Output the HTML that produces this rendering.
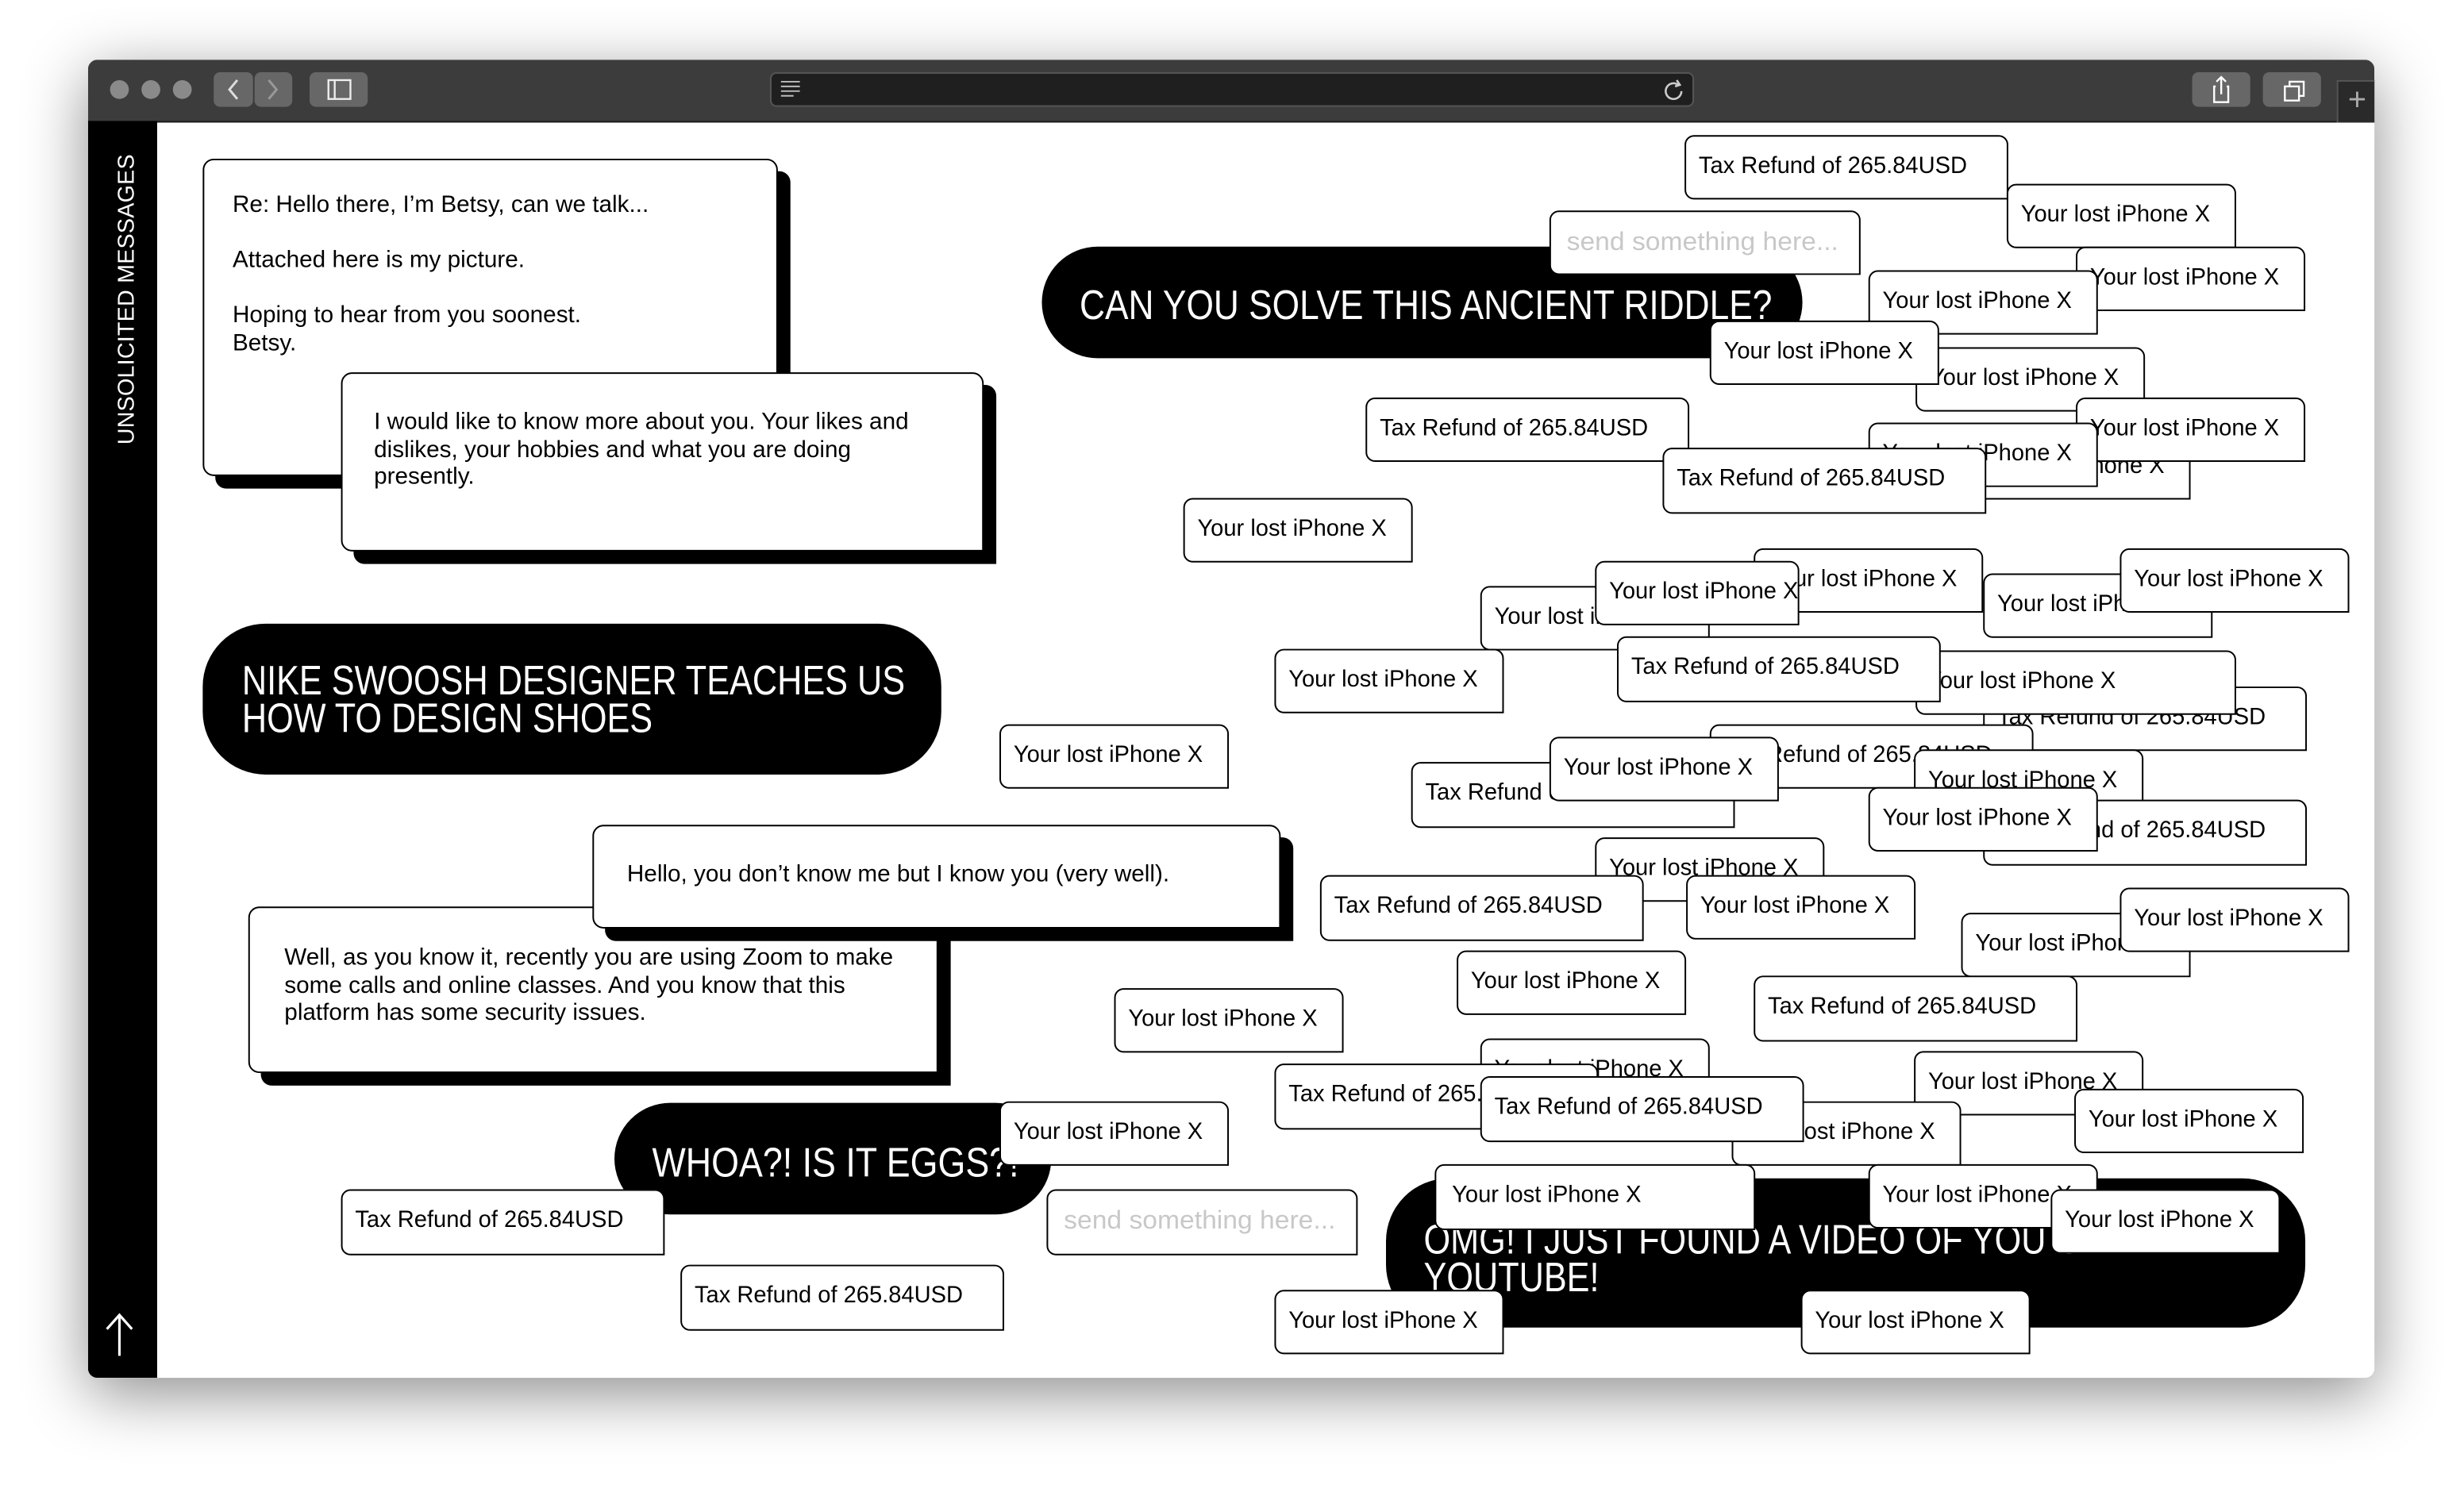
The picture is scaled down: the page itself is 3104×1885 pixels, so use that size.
<!DOCTYPE html>
<html><head><meta charset="utf-8">
<style>
html,body{margin:0;padding:0;background:#fff;}
body{width:3104px;height:1884px;overflow:hidden;position:relative;}
#s{position:absolute;left:0;top:0;width:1568px;height:952px;transform:scale(1.97959);transform-origin:0 0;font-family:"Liberation Sans",sans-serif;}
.win{position:absolute;left:56px;top:38px;width:1455px;height:839px;border-radius:6px;box-shadow:0 10px 40px rgba(0,0,0,.45);overflow:hidden;background:#fff;}
.tb{position:absolute;left:0;top:0;width:1455px;height:39px;background:#3c3c3c;border-bottom:1px solid #1a1a1a;}
.dot{position:absolute;top:13px;width:12px;height:12px;border-radius:50%;background:#8a8a8a;}
.btn{position:absolute;top:8px;height:22px;background:#676767;border-radius:4px;}
.side{position:absolute;left:0;top:39px;width:44px;height:800px;background:#000;}
.vt{position:absolute;left:17px;top:206px;transform:rotate(-90deg);transform-origin:0 0;color:#fff;font-size:14.5px;letter-spacing:.1px;white-space:nowrap;}
.b{position:absolute;box-sizing:border-box;background:#fff;border:1.5px solid #000;border-radius:6px 6px 0 6px;height:41px;padding:10px 0 0 8px;font-size:15px;line-height:18px;white-space:nowrap;overflow:hidden;}
.b span,.big span,.p span{display:inline-block;transform:scaleX(.98);transform-origin:0 0;}
.b span.g{color:#c8c8c8;font-size:16.5px;transform:scaleX(1.03);}
.big{position:absolute;box-sizing:border-box;background:#fff;border:1.5px solid #000;border-radius:7px 7px 0 7px;font-size:15px;line-height:17.5px;padding:20px 18px;box-shadow:8px 8px 0 #000;white-space:nowrap;}
.big span{transform:scaleX(1);}
.p{position:absolute;background:#000;color:#fff;border-radius:40px;box-sizing:border-box;font-size:26px;line-height:24px;white-space:nowrap;}
.p span{transform:scaleX(.84);}
</style></head><body><div id="s">
<div class="win">
 <div class="tb">
  <div class="dot" style="left:14px"></div><div class="dot" style="left:34px"></div><div class="dot" style="left:54px"></div>
  <div class="btn" style="left:80px;width:25px;"></div><div class="btn" style="left:106px;width:24px;"></div>
  <svg style="position:absolute;left:80px;top:8px" width="50" height="22"><path d="M15 5 L10 11 L15 17" stroke="#ddd" fill="none" stroke-width="1.5"/><path d="M35 5 L40 11 L35 17" stroke="#999" fill="none" stroke-width="1.5"/></svg>
  <div class="btn" style="left:141px;width:37px;"></div>
  <svg style="position:absolute;left:141px;top:8px" width="37" height="22"><rect x="12" y="5" width="14" height="12" stroke="#eee" fill="none" stroke-width="1.2"/><line x1="16" y1="5" x2="16" y2="17" stroke="#eee" stroke-width="1.2"/></svg>
  <div style="position:absolute;left:434px;top:8px;width:588px;height:22px;background:#1f1f1f;border-radius:4px;border:1px solid #555;box-sizing:border-box"></div>
  <svg style="position:absolute;left:440px;top:12px" width="16" height="14"><g stroke="#bbb" stroke-width="1"><line x1="1" y1="2" x2="13" y2="2"/><line x1="1" y1="5" x2="13" y2="5"/><line x1="1" y1="8" x2="13" y2="8"/><line x1="1" y1="11" x2="9" y2="11"/></g></svg>
  <svg style="position:absolute;left:1002px;top:12px" width="16" height="16"><path d="M12 8 A5 5 0 1 1 10 4" stroke="#ccc" fill="none" stroke-width="1.3"/><path d="M9 1 L11 4 L8 5" stroke="#ccc" fill="none" stroke-width="1.3"/></svg>
  <div class="btn" style="left:1339px;width:37px;"></div><div class="btn" style="left:1384px;width:37px;"></div>
  <svg style="position:absolute;left:1339px;top:8px" width="37" height="22"><path d="M15 9 H14 V19 H23 V9 H22 M18.5 3 V14 M15.5 6 L18.5 3 L21.5 6" stroke="#fff" fill="none" stroke-width="1.2"/></svg>
  <svg style="position:absolute;left:1384px;top:8px" width="37" height="22"><rect x="14" y="9" width="9" height="9" stroke="#fff" fill="none" stroke-width="1.2"/><path d="M17 9 V6 H26 V15 H23" stroke="#fff" fill="none" stroke-width="1.2"/></svg>
  <div style="position:absolute;left:1431px;top:13px;width:24px;height:26px;background:#2a2a2a;border-left:1px solid #555;border-top:1px solid #555;color:#aaa;font-size:20px;line-height:24px;text-align:center">+</div>
 </div>
 <div class="side"><div class="vt">UNSOLICITED MESSAGES</div>
  <svg style="position:absolute;left:9px;top:758px" width="24" height="30"><path d="M11 28 V3 M3 11 L11 2 L19 11" stroke="#fff" fill="none" stroke-width="1.6"/></svg></div>
</div>

<div class="big" style="left:129px;top:101px;width:366px;height:202px;"><span>Re: Hello there, I’m Betsy, can we talk...<br><br>Attached here is my picture.<br><br>Hoping to hear from you soonest.<br>Betsy.</span></div>
<div class="big" style="left:217px;top:237px;width:409px;height:114px;padding-top:22px;padding-left:20px"><span>I would like to know more about you. Your likes and<br>dislikes, your hobbies and what you are doing<br>presently.</span></div>
<div class="p" style="left:129px;top:397px;width:470px;height:96px;padding:24px 0 0 25px;"><span>NIKE SWOOSH DESIGNER TEACHES US<br>HOW TO DESIGN SHOES</span></div>
<div class="big" style="left:158px;top:577px;width:439px;height:106px;padding-top:23px;padding-left:22px"><span>Well, as you know it, recently you are using Zoom to make<br>some calls and online classes. And you know that this<br>platform has some security issues.</span></div>
<div class="big" style="left:377px;top:525px;width:438px;height:66px;padding-top:22px;padding-left:21px"><span>Hello, you don’t know me but I know you (very well).</span></div>

<div class="b" style="left:1072px;top:86px;width:206px;"><span>Tax Refund of 265.84USD</span></div>
<div class="b" style="left:1277px;top:117px;width:146px;"><span>Your lost iPhone X</span></div>
<div class="p" style="left:663px;top:157px;width:484px;height:71px;padding:25px 0 0 24px;"><span style="transform:scaleX(.86)">CAN YOU SOLVE THIS ANCIENT RIDDLE?</span></div>
<div class="b" style="left:986px;top:134px;width:198px;padding-left:10px"><span class="g">send something here...</span></div>
<div class="b" style="left:1321px;top:157px;width:146px;"><span>Your lost iPhone X</span></div>
<div class="b" style="left:1189px;top:172px;width:146px;"><span>Your lost iPhone X</span></div>
<div class="b" style="left:1219px;top:221px;width:146px;"><span>Your lost iPhone X</span></div>
<div class="b" style="left:1088px;top:204px;width:146px;"><span>Your lost iPhone X</span></div>
<div class="b" style="left:869px;top:253px;width:206px;"><span>Tax Refund of 265.84USD</span></div>
<div class="b" style="left:1248px;top:277px;width:146px;"><span>Your lost iPhone X</span></div>
<div class="b" style="left:1321px;top:253px;width:146px;"><span>Your lost iPhone X</span></div>
<div class="b" style="left:1189px;top:269px;width:146px;"><span>Your lost iPhone X</span></div>
<div class="b" style="left:1058px;top:285px;width:206px;height:42px;"><span>Tax Refund of 265.84USD</span></div>
<div class="b" style="left:753px;top:317px;width:146px;"><span>Your lost iPhone X</span></div>
<div class="b" style="left:1116px;top:349px;width:146px;"><span>Your lost iPhone X</span></div>
<div class="b" style="left:942px;top:373px;width:146px;"><span>Your lost iPhone X</span></div>
<div class="b" style="left:1015px;top:357px;width:130px;"><span>Your lost iPhone X</span></div>
<div class="b" style="left:1262px;top:365px;width:146px;"><span>Your lost iPhone X</span></div>
<div class="b" style="left:1349px;top:349px;width:146px;"><span>Your lost iPhone X</span></div>
<div class="b" style="left:811px;top:413px;width:146px;"><span>Your lost iPhone X</span></div>
<div class="b" style="left:1262px;top:437px;width:206px;"><span>Tax Refund of 265.84USD</span></div>
<div class="b" style="left:1219px;top:414px;width:204px;padding-left:6px"><span>Your lost iPhone X</span></div>
<div class="b" style="left:1029px;top:405px;width:206px;height:42px;"><span>Tax Refund of 265.84USD</span></div>
<div class="b" style="left:636px;top:461px;width:146px;"><span>Your lost iPhone X</span></div>
<div class="b" style="left:1088px;top:461px;width:206px;"><span>Tax Refund of 265.84USD</span></div>
<div class="b" style="left:898px;top:485px;width:206px;height:42px;"><span>Tax Refund of 265.84USD</span></div>
<div class="b" style="left:986px;top:469px;width:146px;"><span>Your lost iPhone X</span></div>
<div class="b" style="left:1218px;top:477px;width:146px;"><span>Your lost iPhone X</span></div>
<div class="b" style="left:1262px;top:509px;width:206px;height:42px;"><span>Tax Refund of 265.84USD</span></div>
<div class="b" style="left:1189px;top:501px;width:146px;"><span>Your lost iPhone X</span></div>
<div class="b" style="left:1015px;top:533px;width:146px;"><span>Your lost iPhone X</span></div>
<div class="b" style="left:840px;top:557px;width:206px;height:42px;"><span>Tax Refund of 265.84USD</span></div>
<div class="b" style="left:1073px;top:557px;width:146px;"><span>Your lost iPhone X</span></div>
<div class="b" style="left:1248px;top:581px;width:146px;"><span>Your lost iPhone X</span></div>
<div class="b" style="left:1349px;top:565px;width:146px;"><span>Your lost iPhone X</span></div>
<div class="b" style="left:927px;top:605px;width:146px;"><span>Your lost iPhone X</span></div>
<div class="b" style="left:1116px;top:621px;width:206px;height:42px;"><span>Tax Refund of 265.84USD</span></div>
<div class="b" style="left:709px;top:629px;width:146px;"><span>Your lost iPhone X</span></div>
<div class="b" style="left:942px;top:661px;width:146px;"><span>Your lost iPhone X</span></div>
<div class="b" style="left:811px;top:677px;width:206px;height:42px;"><span>Tax Refund of 265.84USD</span></div>
<div class="b" style="left:1218px;top:669px;width:146px;"><span>Your lost iPhone X</span></div>
<div class="b" style="left:1102px;top:701px;width:146px;"><span>Your lost iPhone X</span></div>
<div class="b" style="left:942px;top:685px;width:206px;height:42px;"><span>Tax Refund of 265.84USD</span></div>
<div class="b" style="left:1320px;top:693px;width:146px;"><span>Your lost iPhone X</span></div>
<div class="p" style="left:391px;top:702px;width:278px;height:71px;padding:26px 0 0 24px;"><span style="transform:scaleX(.87)">WHOA?! IS IT EGGS?!</span></div>
<div class="b" style="left:636px;top:701px;width:146px;"><span>Your lost iPhone X</span></div>
<div class="b" style="left:217px;top:757px;width:206px;height:42px;"><span>Tax Refund of 265.84USD</span></div>
<div class="b" style="left:666px;top:757px;width:198px;height:42px;padding-left:10px"><span class="g">send something here...</span></div>
<div class="p" style="left:882px;top:750px;width:585px;height:95px;padding:27px 0 0 24px;"><span>OMG! I JUST FOUND A VIDEO OF YOU ON<br>YOUTUBE!</span></div>
<div class="b" style="left:913px;top:741px;width:204px;height:42px;padding-left:10px"><span>Your lost iPhone X</span></div>
<div class="b" style="left:1189px;top:741px;width:146px;"><span>Your lost iPhone X</span></div>
<div class="b" style="left:1305px;top:757px;width:146px;"><span>Your lost iPhone X</span></div>
<div class="b" style="left:433px;top:805px;width:206px;height:42px;"><span>Tax Refund of 265.84USD</span></div>
<div class="b" style="left:811px;top:821px;width:146px;"><span>Your lost iPhone X</span></div>
<div class="b" style="left:1146px;top:821px;width:146px;"><span>Your lost iPhone X</span></div>
</div></body></html>
